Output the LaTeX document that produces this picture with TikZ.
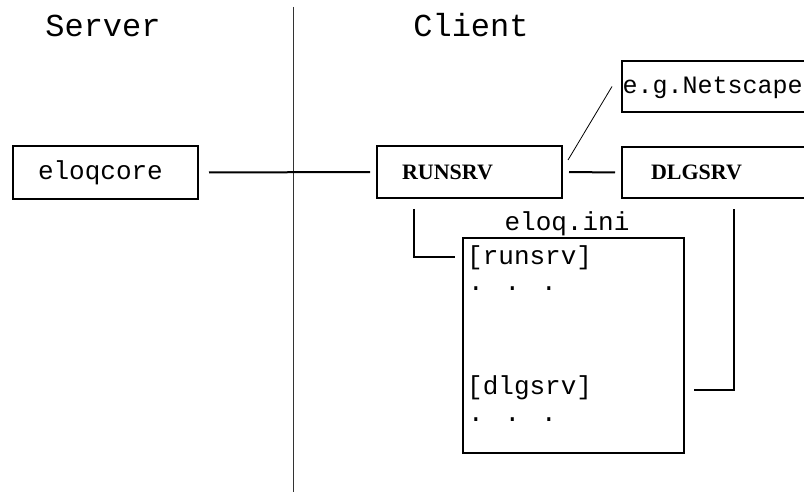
\documentclass[tikz,border=0pt]{standalone}
\usepackage{fontspec}
\newfontfamily\monof{Liberation Mono}
\newfontfamily\serifb{Liberation Serif}[BoldFont={Liberation Serif Bold}]
\begin{document}
\begin{tikzpicture}[x=1pt,y=-1pt,
  box/.style={draw=black,line width=2pt,rectangle,anchor=north west,
    align=left,text height=18pt,text depth=3pt,inner ysep=0pt},
  conn/.style={draw=black,line width=2pt},
  thinline/.style={draw=black,line width=0.8pt},
  divider/.style={draw=black!80,line width=1pt},
  head/.style={font=\monof\fontsize{32}{36}\selectfont,anchor=base,inner sep=0pt},
  mono/.style={font=\monof\fontsize{26}{30}\selectfont,anchor=base west,inner sep=0pt},
  bold/.style={font=\serifb\bfseries\fontsize{22}{25}\selectfont}]
\clip (0,0) rectangle (804,492);
\fill[white] (0,0) rectangle (804,492);
% divider
\coordinate (divtop) at (293,7);
\coordinate (divbot) at (293,492);
\draw[divider] (divtop) -- (divbot);
% headings
\node[head] (server) at (103,37) {Server};
\node[head] (client) at (471,37) {Client};
% boxes
\node[box,minimum width=185pt,minimum height=53pt,text width=135pt,inner xsep=25pt,
  font=\monof\fontsize{26}{30}\selectfont] (eloqcore) at (12,145) {eloqcore};
\node[box,bold,minimum width=185pt,minimum height=52pt,text width=135pt,inner xsep=25pt] (runsrv) at (376,145) {RUNSRV};
\node[box,bold,minimum width=190pt,minimum height=51pt,text width=132pt,inner xsep=29pt] (dlgsrv) at (621,146) {DLGSRV};
\node[box,minimum width=190pt,minimum height=51pt,text width=189pt,inner xsep=0.5pt,
  font=\monof\fontsize{25}{30}\selectfont] (netscape) at (621,60) {e.g.Netscape};
\node[draw=black,line width=2pt,rectangle,anchor=north west,minimum width=221pt,
  minimum height=215pt,inner sep=0pt] (inibox) at (462,237) {};
% ini texts
\node[mono,anchor=base] (inititle) at (567,230) {eloq.ini};
\node[mono] (rs) at (467,265) {[runsrv]};
\node[mono] (rsdots) at (468,290) {. . .};
\node[mono] (ds) at (467,394) {[dlgsrv]};
\node[mono] (dsdots) at (468,421) {. . .};
% connectors
\draw[conn,shorten <=10pt,shorten >=6pt] (eloqcore.east) -- (runsrv.west);
\draw[conn,shorten <=6pt,shorten >=6pt] (runsrv.east) -- (dlgsrv.west);
\draw[thinline] ([shift={(5,-12)}]runsrv.east) -- ([xshift=-9pt]netscape.west);
\draw[conn] ([shift={(38,10)}]runsrv.south west) |- ([shift={(-7,20)}]inibox.north west);
\draw[conn] ([shift={(9,153)}]inibox.north east) -| ([shift={(113,10)}]dlgsrv.south west);
\end{tikzpicture}
\end{document}
